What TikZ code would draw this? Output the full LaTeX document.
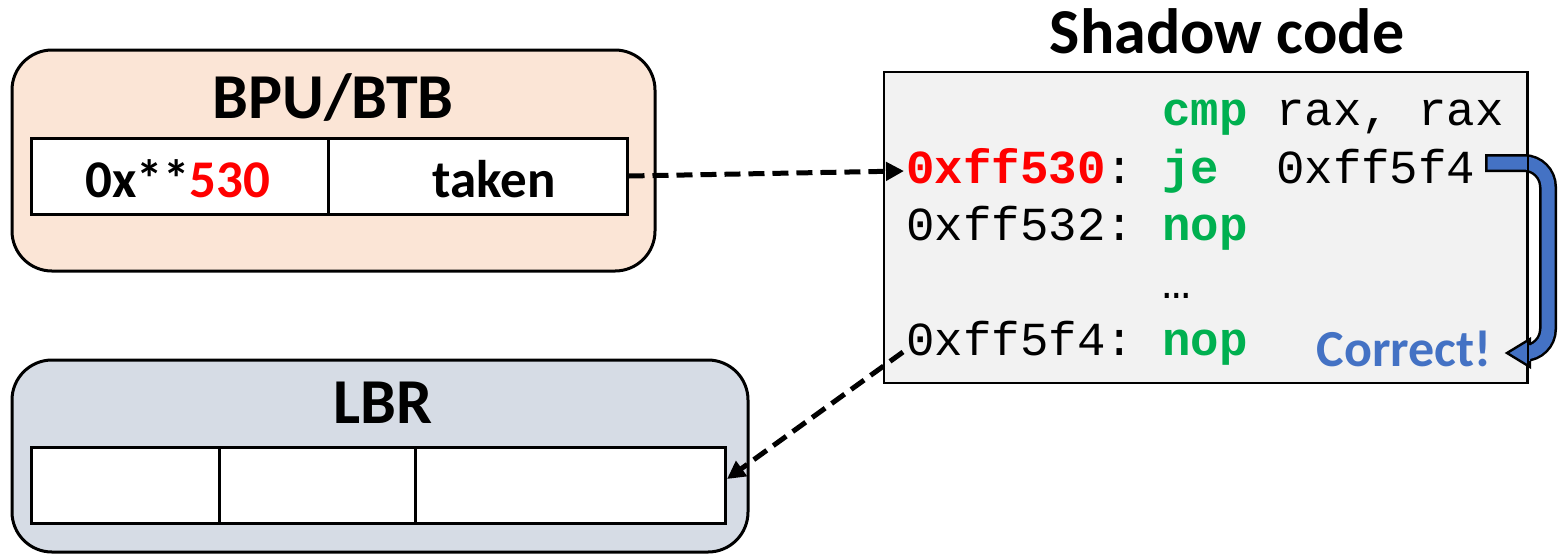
\documentclass[tikz,border=0pt]{standalone}
\usepackage{fontspec}
\setmainfont{Carlito}
\newfontfamily\codefont{Liberation Mono}
\usetikzlibrary{arrows.meta}
\definecolor{peach}{HTML}{FBE5D6}
\definecolor{lbrblue}{HTML}{D6DCE5}
\definecolor{codebg}{HTML}{F2F2F2}
\definecolor{codegreen}{HTML}{00B050}
\definecolor{arrowblue}{HTML}{4472C4}
\begin{document}
\begin{tikzpicture}[x=0.5pt,y=-0.5pt,
  box/.style={draw, line width=1.5pt, rounded corners=20pt, inner sep=0pt},
  cell/.style={draw, line width=1.5pt, fill=white, inner sep=0pt, minimum height=38pt},
  title/.style={font=\fontsize{32}{38}\selectfont\bfseries, anchor=base, inner sep=0pt},
  celltext/.style={font=\fontsize{26.5}{32}\selectfont\bfseries, anchor=base, inner sep=0pt},
  code/.style={font=\codefont\fontsize{23.7}{28}\selectfont, anchor=base west, inner sep=0pt},
  dasharrow/.style={line width=2.5pt, dash pattern=on 8pt off 4pt, -{Triangle[length=9pt,width=9pt]}},
]
\useasboundingbox (0,0) rectangle (1560,554);

% BPU/BTB
\node[box, fill=peach, minimum width=321.5pt, minimum height=110.5pt] (bpu) at (333.5,160.5) {};
\node[title] (bputitle) at (333,118) {BPU/BTB};
\node[cell, minimum width=148.5pt] (bt1) at (179.5,176) {};
\node[cell, minimum width=149.5pt] (bt2) at (477.5,176) {};
\node[celltext] (bt1t) at (178,197) {0x**\textcolor{red}{530}};
\node[celltext] (bt2t) at (494,197) {taken};

% LBR
\node[box, fill=lbrblue, minimum width=368pt, minimum height=96pt] (lbr) at (380,456) {};
\node[title] (lbrtitle) at (383,423) {LBR};
\node[cell, minimum width=94pt] (lc1) at (125,485) {};
\node[cell, minimum width=98pt] (lc2) at (317,485) {};
\node[cell, minimum width=155pt] (lc3) at (570,485) {};

% Shadow code
\node[title] (sctitle) at (1227,53) {Shadow code};
\node[draw, line width=1pt, fill=codebg, minimum width=321.5pt, minimum height=155.5pt, inner sep=0pt] (code) at (1205.5,227.5) {};
\node[code] (l1) at (1162,125) {\textcolor{codegreen}{\bfseries cmp}\ rax,\ rax};
\node[code] (l2) at (906,183) {\textcolor{red}{\bfseries 0xff530}:\ \textcolor{codegreen}{\bfseries je}\ \ 0xff5f4};
\node[code] (l3) at (906,240) {0xff532:\ \textcolor{codegreen}{\bfseries nop}};
\node[code] (l4) at (1162,298) {…};
\node[code] (l5) at (906,355) {0xff5f4:\ \textcolor{codegreen}{\bfseries nop}};
\node[font=\fontsize{26}{30}\selectfont\bfseries, text=arrowblue, anchor=base, inner sep=0pt] (correct) at (1404,366) {Correct!};

% dashed arrows
\coordinate (a1e) at (904,171);
\draw[dasharrow] (bt2.east) -- (a1e);
\coordinate (a2s) at (903,352);
\coordinate (a2e) at (727,479);
\draw[dasharrow] (a2s) -- (a2e);

% blue jump arrow
\draw[line width=9pt, black, rounded corners=12pt] (1485,163) -- (1548,163) -- (1548,353) -- (1520,353);
\draw[line width=6.5pt, arrowblue, rounded corners=12pt] (1487.5,163) -- (1548,163) -- (1548,353) -- (1520,353);
\fill[arrowblue] (1530,339) -- (1507,353) -- (1530,367) -- cycle;
\draw[line width=1.2pt, line join=miter] (1530,345) -- (1530,339) -- (1507,353) -- (1530,367) -- (1530,361);
\draw[line width=1pt] (code.north east) -- (code.south east);
\end{tikzpicture}
\end{document}
